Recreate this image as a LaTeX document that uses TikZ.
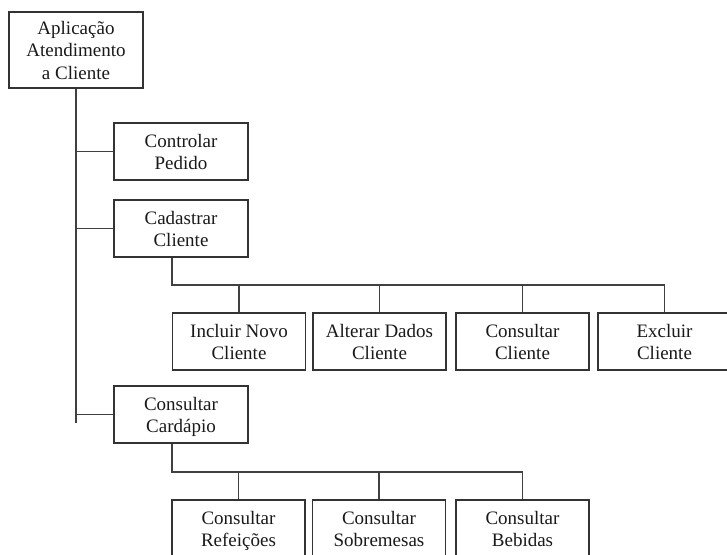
\documentclass[tikz,border=0pt]{standalone}
\usepackage{fontspec}
\setmainfont{Liberation Serif}
\usetikzlibrary{calc}
% centred label lines with a little extra room above the first line
\newcommand\boxtext[1]{\begin{tabular}{@{}c@{}}\rule{0pt}{20.7pt}#1\end{tabular}}
\begin{document}
\begin{tikzpicture}[x=1pt,y=-1pt,
  box/.style={draw=black!80, line width=1.6pt, minimum width=134pt, minimum height=57pt,
    inner sep=0pt, font=\fontsize{19}{22.4}\selectfont, text=black!90},
  leaf/.style={box, minimum width=133pt},
  link/.style={draw=black!75, line width=1.6pt}]
\useasboundingbox (0,0) rectangle (727,554);
\clip (0,0) rectangle (727,554);

% root and first-level functions
\node[box, minimum height=76pt] (app) at (76,50) {\boxtext{Aplicação\\Atendimento\\a Cliente}};
\node[box] (ctrl) at (181,151.5) {\boxtext{Controlar\\Pedido}};
\node[box] (cad)  at (181,228.5) {\boxtext{Cadastrar\\Cliente}};
\node[box] (card) at (181,414.5) {\boxtext{Consultar\\Cardápio}};

% customer registration operations
\node[leaf] (inc) at (239,341.5) {\boxtext{Incluir Novo\\Cliente}};
\node[leaf] (alt) at (379.5,341.5) {\boxtext{Alterar Dados\\Cliente}};
\node[leaf] (con) at (522.5,341.5) {\boxtext{Consultar\\Cliente}};
\node[leaf] (exc) at (664.5,341.5) {\boxtext{Excluir\\Cliente}};

% menu queries
\node[leaf] (ref) at (238.5,528.5) {\boxtext{Consultar\\Refeições}};
\node[leaf] (sob) at (379,528.5) {\boxtext{Consultar\\Sobremesas}};
\node[leaf] (beb) at (522.5,528.5) {\boxtext{Consultar\\Bebidas}};

% main trunk with its branches
\coordinate (trunkend) at (76,423);
\draw[link] (app.south) -- (trunkend);
\draw[link] (ctrl.west) -- (ctrl.west -| app.south);
\draw[link] (cad.west) -- (cad.west -| app.south);
\draw[link] (card.west) -- (card.west -| app.south);

% bus under Cadastrar Cliente
\coordinate (cbus) at (172,285);
\draw[link] ($(cad.south)+(-9,0)$) -- (cbus) -- (cbus -| exc.north) -- (exc.north);
\draw[link] (inc.north) -- (inc.north |- cbus);
\draw[link] (alt.north) -- (alt.north |- cbus);
\draw[link] (con.north) -- (con.north |- cbus);

% bus under Consultar Cardapio
\coordinate (mbus) at (172,472);
\draw[link] ($(card.south)+(-9,0)$) -- (mbus) -- (mbus -| beb.north) -- (beb.north);
\draw[link] (ref.north) -- (ref.north |- mbus);
\draw[link] (sob.north) -- (sob.north |- mbus);
\end{tikzpicture}
\end{document}
